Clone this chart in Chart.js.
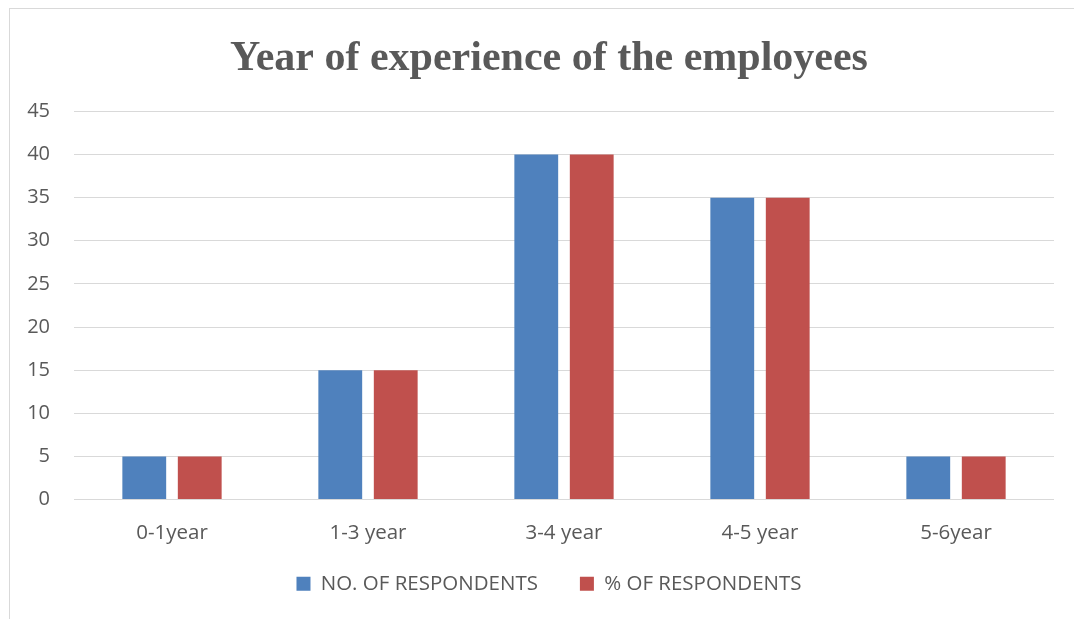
<!DOCTYPE html>
<html>
<head>
<meta charset="utf-8">
<script src="https://cdn.jsdelivr.net/npm/chart.js@4/dist/chart.umd.min.js"></script>
<style>
  html, body { margin: 0; padding: 0; background: #ffffff; overflow: hidden; width: 1074px; height: 619px; }
  #frame { position: absolute; left: 9px; top: 8px; width: 1200px; height: 800px; border: 1px solid #d9d9d9; box-sizing: border-box; }
  #c { position: absolute; left: 10px; top: 9px; }
</style>
</head>
<body>
<div id="frame"></div>
<canvas id="c" width="1078" height="610"></canvas>
<script>
const categories = ["0-1year", "1-3 year", "3-4 year", "4-5 year", "5-6year"];
const seriesNames = ["NO. OF RESPONDENTS", "% OF RESPONDENTS"];
const noOfRespondents = [5, 15, 40, 35, 5];
const pctOfRespondents = [5, 15, 40, 35, 5];
const yTicks = [0, 5, 10, 15, 20, 25, 30, 35, 40, 45];
const titleText = "Year of experience of the employees";

const textColor = "#595959";
const gridColor = "#d9d9d9";
const sansFont = "'Open Sans', 'Liberation Sans', sans-serif";

const legendShift = {
  id: "legendShift",
  afterLayout(chart) {
    if (chart.legend) { chart.legend.top -= 14; chart.legend.bottom -= 14; }
  }
};

new Chart(document.getElementById("c"), {
  type: "bar",
  data: {
    labels: categories,
    datasets: [
      { label: seriesNames[0], data: noOfRespondents, backgroundColor: "#4F81BD", borderWidth: 0 },
      { label: seriesNames[1], data: pctOfRespondents, backgroundColor: "#C0504D", borderWidth: 0 }
    ]
  },
  plugins: [legendShift],
  options: {
    responsive: false,
    animation: false,
    devicePixelRatio: 1,
    layout: { padding: { left: 0, right: 0, top: 0, bottom: 1 } },
    datasets: { bar: { categoryPercentage: 0.566, barPercentage: 0.79 } },
    plugins: {
      title: {
        display: true,
        text: titleText,
        color: textColor,
        font: { family: "'Liberation Serif', 'Times New Roman', serif", size: 42, weight: "bold" },
        padding: { top: 25, bottom: 27 }
      },
      legend: {
        position: "bottom",
        labels: {
          color: textColor,
          font: { family: sansFont, size: 20.5 },
          boxWidth: 14,
          boxHeight: 14,
          padding: 42
        }
      },
      tooltip: { enabled: false }
    },
    scales: {
      x: {
        grid: { display: false, drawTicks: false },
        border: { display: false },
        ticks: { color: textColor, font: { family: sansFont, size: 20.5 }, padding: 21, maxRotation: 0 },
        afterFit: (s) => { s.height = 46; }
      },
      y: {
        min: 0,
        max: 45,
        afterBuildTicks: (s) => { s.ticks = yTicks.map(v => ({ value: v })); },
        grid: { color: gridColor, lineWidth: 1, drawTicks: false },
        border: { display: false },
        ticks: { color: textColor, font: { family: sansFont, size: 20 }, padding: 24 },
        afterFit: (s) => { s.width = 64; }
      },
      yRightSpace: {
        position: "right",
        display: true,
        grid: { display: false, drawTicks: false },
        border: { display: false },
        ticks: { display: false },
        afterFit: (s) => { s.width = 34; }
      }
    }
  }
});
</script>
</body>
</html>
